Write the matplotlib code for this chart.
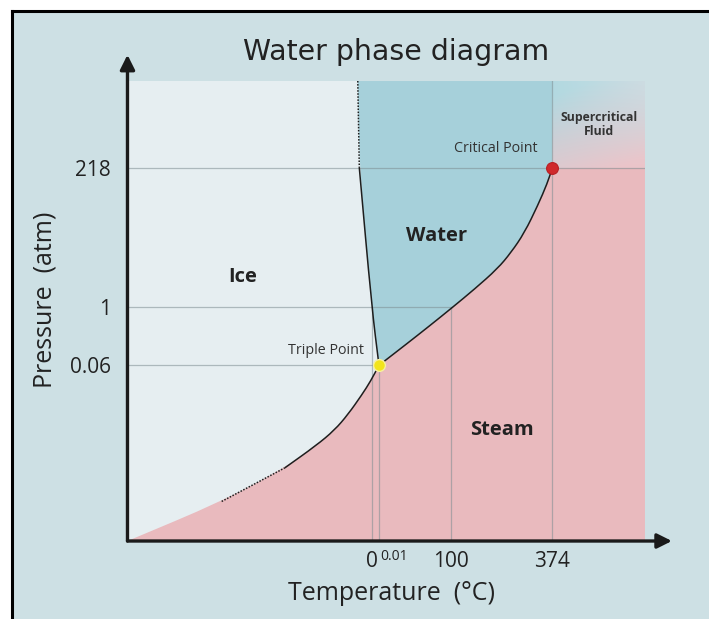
import numpy as np
import matplotlib.pyplot as plt
from matplotlib.patches import PathPatch, Rectangle
from matplotlib.path import Path
from matplotlib.lines import Line2D
import matplotlib.transforms as mtransforms

# [Data]____________________________________________________________________
# schematic axes: 0..100 on both axes, ticks sit at these positions
temp_labels = ["0", "100", "374"]
temp_pos = [47.2, 62.6, 82.1]
triple_temp_label = "0.01"
triple_temp_pos = 48.6

press_labels = ["0.06", "1", "218"]
press_pos = [38.2, 50.9, 81.1]

# sublimation curve (origin -> triple point)
subl_x = [0, 18.2, 30.4, 36.5, 40.0, 42.6, 45.3, 47.0, 48.6]
subl_y = [0, 8.6, 15.9, 20.8, 24.1, 27.5, 31.8, 34.8, 38.2]
# vaporisation curve (triple point -> critical point)
vap_x = [48.6, 54.0, 58.4, 62.7, 67.1, 71.5, 74.1, 76.7, 79.3, 81.1, 82.1]
vap_y = [38.2, 42.9, 46.8, 50.7, 54.8, 59.2, 62.7, 67.0, 73.0, 77.7, 81.1]
# fusion curve (top -> triple point)
fus_x = [44.5, 44.8, 47.2, 48.6]
fus_y = [100, 81.1, 50.9, 38.2]

triple = (48.6, 38.2)
critical = (82.1, 81.1)

region_names = ["Ice", "Water", "Steam"]
region_pos = [(22.3, 57.5), (59.7, 66.3), (72.3, 24.1)]

# [Colours]_________________________________________________________________
bg = "#cde0e4"
ice = "#e6eef1"
water = "#a6d0da"
steam = "#e9babe"
grid = "#7d8d91"
ink = "#222222"

plt.rcParams['font.family'] = ['Open Sans', 'DejaVu Sans']


def smooth(xs, ys):
  # quadratic b-spline through the midpoints of the read points
  pts = np.column_stack([xs, ys])
  verts = [pts[0], (pts[0] + pts[1]) / 2]
  codes = [Path.MOVETO, Path.LINETO]
  for i in range(1, len(pts) - 1):
    verts += [pts[i], (pts[i] + pts[i + 1]) / 2]
    codes += [Path.CURVE3, Path.CURVE3]
  verts.append(pts[-1])
  codes.append(Path.LINETO)
  return verts, codes


def region(chains, corners):
  verts, codes = [], []
  for k, (xs, ys) in enumerate(chains):
    v, c = smooth(xs, ys)
    if k > 0:
      c[0] = Path.LINETO
    verts += v
    codes += c
  for p in corners:
    verts.append(p)
    codes.append(Path.LINETO)
  verts.append(verts[0])
  codes.append(Path.CLOSEPOLY)
  return Path(verts, codes)


fig = plt.figure(figsize=(7.09, 6.19), dpi=100, facecolor="white")
fig.patches.append(Rectangle((12 / 709, 0), 1, 1 - 11 / 619, transform=fig.transFigure,
                             facecolor=bg, edgecolor="none", zorder=-10))
fig.add_artist(Line2D([12 / 709, 12 / 709], [0, 1 - 11 / 619], color="black", lw=2.2))
fig.add_artist(Line2D([12 / 709, 1], [1 - 11 / 619, 1 - 11 / 619], color="black", lw=2.2))

ax = fig.add_axes([0.1798, 0.126, 0.7299, 0.7431])
ax.set_xlim(0, 100)
ax.set_ylim(0, 100)
ax.set_facecolor(ice)
for s in ax.spines.values():
  s.set_visible(False)

# regions
ax.add_patch(PathPatch(region([(subl_x, subl_y), (vap_x, vap_y)], [(100, critical[1]), (100, 0)]),
                       facecolor=steam, edgecolor="none", zorder=1))
ax.add_patch(PathPatch(region([(fus_x, fus_y), (vap_x, vap_y)], [(critical[0], 100)]),
                       facecolor=water, edgecolor="none", zorder=1))

# supercritical gradient: blue at top-left, pink toward the 218 line, paler to the right
u, v = np.meshgrid(np.linspace(0, 1, 60), np.linspace(0, 1, 60))
c_blue = np.array([0.70, 0.85, 0.88])
c_pink = np.array([0.92, 0.77, 0.79])
c_pale = np.array([0.84, 0.88, 0.90])
w_pink = np.clip(0.9 * (1 - v) + 0.35 * u - 0.15, 0, 1)[..., None]
w_pale = np.clip(0.6 * u * v, 0, 1)[..., None]
img = c_blue * (1 - w_pink) + c_pink * w_pink
img = img * (1 - w_pale) + c_pale * w_pale
ax.imshow(img, extent=[critical[0], 100, critical[1], 100], origin="lower",
          aspect="auto", zorder=1, interpolation="bilinear")

# reference lines
lk = dict(color=grid, lw=0.9, alpha=0.55, zorder=2)
ax.plot([0, 100], [press_pos[2]] * 2, **lk)
ax.plot([0, vap_x[3]], [press_pos[1]] * 2, **lk)
ax.plot([0, triple[0]], [press_pos[0]] * 2, **lk)
ax.plot([temp_pos[0]] * 2, [0, press_pos[1]], **lk)
ax.plot([triple_temp_pos] * 2, [0, triple[1]], **lk)
ax.plot([temp_pos[1]] * 2, [0, press_pos[1]], **lk)
ax.plot([temp_pos[2]] * 2, [0, 100], **lk)

# phase boundaries
ck = dict(edgecolor="#1e1e1e", facecolor="none", lw=1.1, zorder=3)
ax.plot(subl_x[1:3], subl_y[1:3], ls=(0, (1, 1)), color="#1e1e1e", lw=1.1, zorder=3)
ax.add_patch(PathPatch(Path(*smooth(subl_x[2:], subl_y[2:])), **ck))
ax.add_patch(PathPatch(Path(*smooth(vap_x, vap_y)), **ck))
ax.plot(fus_x[:2], fus_y[:2], ls=(0, (1, 1)), color="#1e1e1e", lw=1.1, zorder=3)
ax.add_patch(PathPatch(Path(*smooth(fus_x[1:], fus_y[1:])), **ck))

ax.plot(*triple, "o", ms=8.5, mfc="#f2e41c", mec="#f6f0a0", mew=1, zorder=5)
ax.plot(*critical, "o", ms=8.5, mfc="#d0282b", mec="#b82024", mew=0.8, zorder=5)

# axes arrows
ak = dict(arrowstyle="-|>", lw=2.4, color="#1a1a1a", mutation_scale=22, shrinkA=0, shrinkB=0)
ax.annotate("", xy=(0, 105.7), xytext=(0, 0), arrowprops=ak, annotation_clip=False, zorder=6)
ax.annotate("", xy=(105.2, 0), xytext=(0, 0), arrowprops=ak, annotation_clip=False, zorder=6)

# ticks
ax.set_yticks(press_pos, press_labels, fontsize=15, color=ink)
ax.tick_params(axis="y", length=0, pad=12)
ax.set_xticks(temp_pos, temp_labels, fontsize=15, color=ink)
ax.set_xticks([triple_temp_pos], [triple_temp_label], minor=True, fontsize=10, color=ink)
ax.tick_params(axis="x", which="major", length=0, pad=7)
ax.tick_params(axis="x", which="minor", length=0, pad=6)
for lbl in ax.get_xticklabels(minor=True):
  lbl.set_ha("left")
  lbl.set_transform(lbl.get_transform() + mtransforms.ScaledTranslation(1 / 100, 0, fig.dpi_scale_trans))

ax.set_xlabel("Temperature  (°C)", fontsize=18, color=ink, va="center")
ax.xaxis.set_label_coords(0.511, -0.115)
ax.set_ylabel("Pressure  (atm)", fontsize=18, color=ink, va="center")
ax.yaxis.set_label_coords(-0.159, 0.524)
ax.set_title("Water phase diagram", fontsize=20.4, family="DejaVu Sans", color=ink,
             x=0.519, y=1.063, va="center", pad=0)

# labels
for name, (x, y) in zip(region_names, region_pos):
  ax.text(x, y, name, fontsize=14.5, fontweight="bold", color=ink, ha="center", va="center", zorder=6)
ax.text(45.7, 41.5, "Triple Point", fontsize=10.3, color="#333333", ha="right", va="center", zorder=6)
ax.text(71.2, 85.3, "Critical Point", fontsize=10.3, color="#333333", ha="center", va="center", zorder=6)
ax.text(91.1, 90.6, "Supercritical\nFluid", fontsize=8.8, fontweight="bold", color="#333333",
        ha="center", va="center", linespacing=1.1, zorder=6)

plt.savefig("out.png", dpi=100)
